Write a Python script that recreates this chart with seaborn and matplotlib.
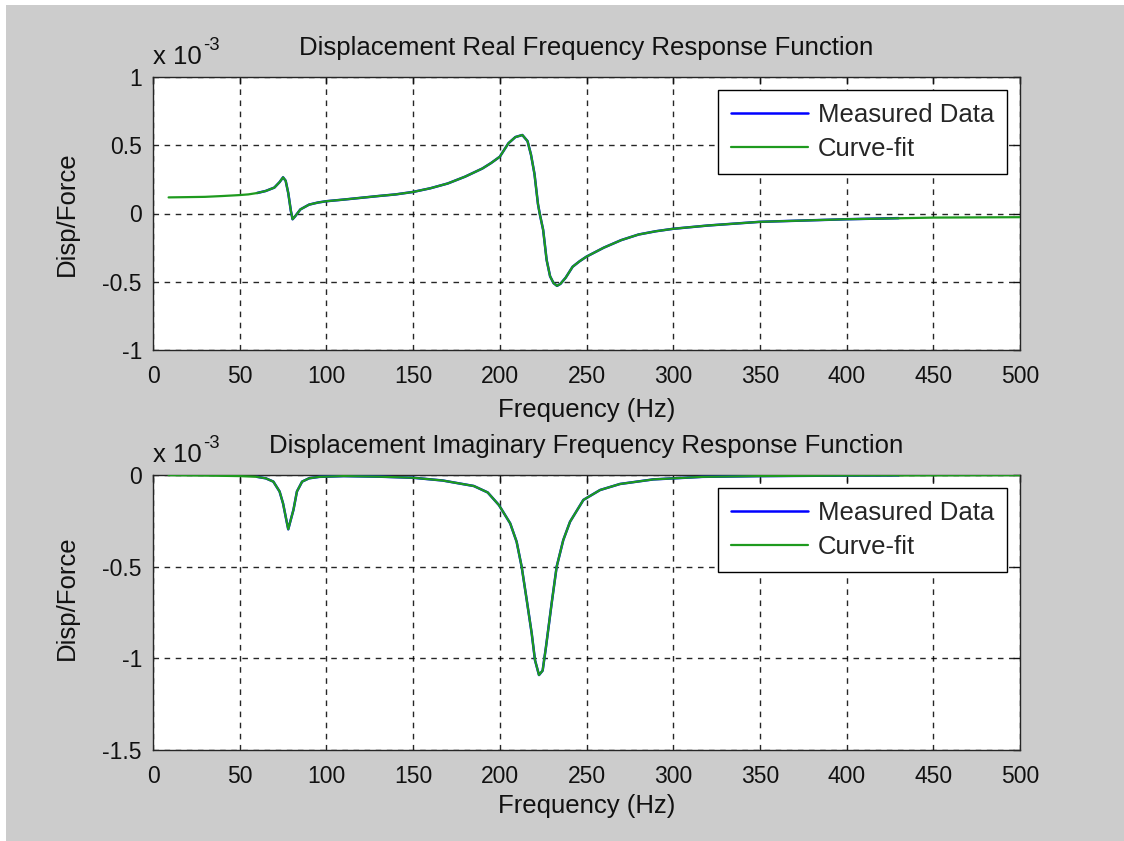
import numpy as np
import pandas as pd
import matplotlib
matplotlib.use("Agg")
import matplotlib.pyplot as plt
import seaborn as sns
from matplotlib.patches import Rectangle

# ---------------- data (values in units of 1e-3) ----------------
fit_freq_real = [9, 20, 30, 40, 50, 55, 60, 65, 70, 73, 75, 76.5, 78, 79.5, 80.5, 82, 85, 90, 95,
                 100, 110, 120, 130, 140, 150, 160, 170, 180, 190, 195, 200, 205, 209, 213, 216,
                 218, 220, 222, 223, 225, 227, 229, 231, 233, 235, 238, 242, 246, 250, 260, 270,
                 280, 290, 300, 320, 350, 400, 450, 500]
fit_real = [0.118, 0.12, 0.122, 0.128, 0.135, 0.14, 0.15, 0.165, 0.19, 0.23, 0.265, 0.24, 0.15,
            0.02, -0.042, -0.02, 0.03, 0.065, 0.08, 0.09, 0.102, 0.115, 0.128, 0.14, 0.158, 0.185,
            0.22, 0.27, 0.33, 0.37, 0.416, 0.515, 0.56, 0.575, 0.53, 0.43, 0.29, 0.07, 0.0, -0.12,
            -0.34, -0.46, -0.51, -0.53, -0.515, -0.47, -0.39, -0.35, -0.316, -0.25, -0.195,
            -0.154, -0.13, -0.112, -0.088, -0.061, -0.042, -0.03, -0.027]

meas_freq_real = [60, 65, 70, 73, 75, 76.5, 78, 79.5, 80.5, 82, 85, 90, 95, 100, 110, 120, 130,
                  140, 150, 160, 170, 180, 190, 195, 200, 205, 209, 213, 216, 218, 220, 222, 223,
                  225, 227, 229, 231, 233, 235, 238, 242, 246, 250, 260, 270, 280, 290, 300, 320,
                  350, 400, 430]
meas_real = [0.15, 0.165, 0.19, 0.23, 0.265, 0.24, 0.15, 0.02, -0.042, -0.02, 0.03, 0.065, 0.08,
             0.09, 0.102, 0.115, 0.128, 0.14, 0.158, 0.185, 0.22, 0.27, 0.33, 0.37, 0.416, 0.515,
             0.56, 0.575, 0.53, 0.43, 0.29, 0.07, 0.0, -0.12, -0.34, -0.46, -0.51, -0.53, -0.515,
             -0.47, -0.39, -0.35, -0.316, -0.25, -0.195, -0.154, -0.13, -0.112, -0.088, -0.061,
             -0.042, -0.034]

fit_freq_imag = [9, 30, 50, 60, 65, 69.4, 73, 75, 77, 78, 79, 81, 83, 86, 90, 96, 110, 130, 150,
                 167, 185, 193, 199.5, 206, 209.7, 212.6, 215.5, 218.4, 220.3, 222.6, 224.7,
                 226.6, 229.9, 232.8, 236.6, 240.5, 248.2, 257.8, 269.3, 288.5, 317, 350, 400, 500]
fit_imag = [-0.001, -0.003, -0.006, -0.01, -0.018, -0.036, -0.09, -0.155, -0.25, -0.296, -0.26,
            -0.19, -0.09, -0.036, -0.018, -0.01, -0.006, -0.009, -0.015, -0.03, -0.06, -0.095,
            -0.164, -0.264, -0.364, -0.5, -0.68, -0.864, -1.01, -1.091, -1.067, -0.94, -0.70,
            -0.50, -0.355, -0.255, -0.136, -0.082, -0.049, -0.024, -0.01, -0.006, -0.003, -0.001]

meas_freq_imag = [60, 65, 69.4, 73, 75, 77, 78, 79, 81, 83, 86, 90, 96, 110, 130, 150, 167, 185,
                  193, 199.5, 206, 209.7, 212.6, 215.5, 218.4, 220.3, 222.6, 224.7, 226.6, 229.9,
                  232.8, 236.6, 240.5, 248.2, 257.8, 269.3, 288.5, 317, 350, 400, 430]
meas_imag = [-0.01, -0.018, -0.036, -0.09, -0.155, -0.25, -0.296, -0.26, -0.19, -0.09, -0.036,
             -0.018, -0.01, -0.006, -0.009, -0.015, -0.03, -0.06, -0.095, -0.164, -0.264, -0.364,
             -0.5, -0.68, -0.864, -1.01, -1.091, -1.067, -0.94, -0.70, -0.50, -0.355, -0.255,
             -0.136, -0.082, -0.049, -0.024, -0.01, -0.006, -0.003, -0.002]

x_ticks = [0, 50, 100, 150, 200, 250, 300, 350, 400, 450, 500]
y_ticks_real = [-1, -0.5, 0, 0.5, 1]
y_ticks_imag = [-1.5, -1, -0.5, 0]

titles = ["Displacement Real Frequency Response Function",
          "Displacement Imaginary Frequency Response Function"]
legend_labels = ["Measured Data", "Curve-fit"]

# ---------------- style ----------------
sns.set_style("white")
plt.rcParams["font.family"] = ["Liberation Sans", "DejaVu Sans"]
FS = 18.5      # titles, labels, legend
FT = 16.5      # tick labels
TXT = "#111111"
BLUE = "#0000ff"
GREEN = "#1e9a1e"
BG = "#cccccc"

fig = plt.figure(figsize=(11.24, 8.41), dpi=100, facecolor=BG)
fig.add_artist(Rectangle((0, 1 - 5 / 841), 1, 5 / 841, transform=fig.transFigure,
                         facecolor="white", edgecolor="none", zorder=-1))
fig.add_artist(Rectangle((0, 0), 6 / 1124, 1, transform=fig.transFigure,
                         facecolor="white", edgecolor="none", zorder=-1))

W, H = 1124, 841
ax1 = fig.add_axes([153 / W, 1 - 350 / H, 867 / W, 273 / H])
ax2 = fig.add_axes([153 / W, 1 - 750 / H, 867 / W, 275 / H])

panels = [
    (ax1, meas_freq_real, meas_real, fit_freq_real, fit_real, y_ticks_real, (-1, 1),
     ["-1", "-0.5", "0", "0.5", "1"], 7, 0.5),
    (ax2, meas_freq_imag, meas_imag, fit_freq_imag, fit_imag, y_ticks_imag, (-1.5, 0),
     ["-1.5", "-1", "-0.5", "0"], 4, 0.553),
]

for i, (ax, mf, mv, ff, fv, yt, ylim, ylabels, xpad, ylab_y) in enumerate(panels):
    ax.set_facecolor("white")
    dm = pd.DataFrame({"f": mf, "v": mv})
    dfit = pd.DataFrame({"f": ff, "v": fv})
    sns.lineplot(data=dm, x="f", y="v", ax=ax, color=BLUE, lw=1.8, sort=False,
                 estimator=None, label=legend_labels[0], zorder=3)
    sns.lineplot(data=dfit, x="f", y="v", ax=ax, color=GREEN, lw=1.6, sort=False,
                 estimator=None, label=legend_labels[1], zorder=4)
    ax.set_xlim(0, 500)
    ax.set_ylim(*ylim)
    ax.set_xticks(x_ticks)
    ax.set_xticklabels([str(t) for t in x_ticks])
    ax.set_yticks(yt)
    ax.set_yticklabels(ylabels)
    ax.grid(True, color="black", linestyle=(0, (4, 4)), linewidth=1.0, alpha=0.85)
    ax.set_axisbelow(True)
    for s in ax.spines.values():
        s.set_visible(True)
        s.set_color("#262626")
        s.set_linewidth(1.0)
    ax.tick_params(direction="in", length=5, width=1, top=True, right=True,
                   labelsize=FT, colors=TXT, pad=8)
    ax.tick_params(axis="x", pad=11)
    ax.set_xlabel("Frequency (Hz)", fontsize=FS, labelpad=xpad, color=TXT)
    ax.set_ylabel("Disp/Force", fontsize=FS, color=TXT)
    ax.yaxis.set_label_coords(-0.085, ylab_y)
    ax.set_title(titles[i], fontsize=FS, pad=16, color=TXT)
    ax.text(0.0, 1.03, "x 10", transform=ax.transAxes, ha="left", va="bottom",
            fontsize=FS, color=TXT)
    ax.text(0.058, 1.085, "-3", transform=ax.transAxes, ha="left", va="bottom",
            fontsize=FS * 0.72, color=TXT)
    leg = ax.legend(loc="upper right", fontsize=FS, frameon=True, fancybox=False,
                    edgecolor="black", facecolor="white", framealpha=1,
                    borderaxespad=0.5, handlelength=3.0, handletextpad=0.4,
                    borderpad=0.5, labelspacing=0.4)
    leg.get_frame().set_linewidth(1.0)

fig.savefig("out.png", dpi=100, facecolor=BG)
